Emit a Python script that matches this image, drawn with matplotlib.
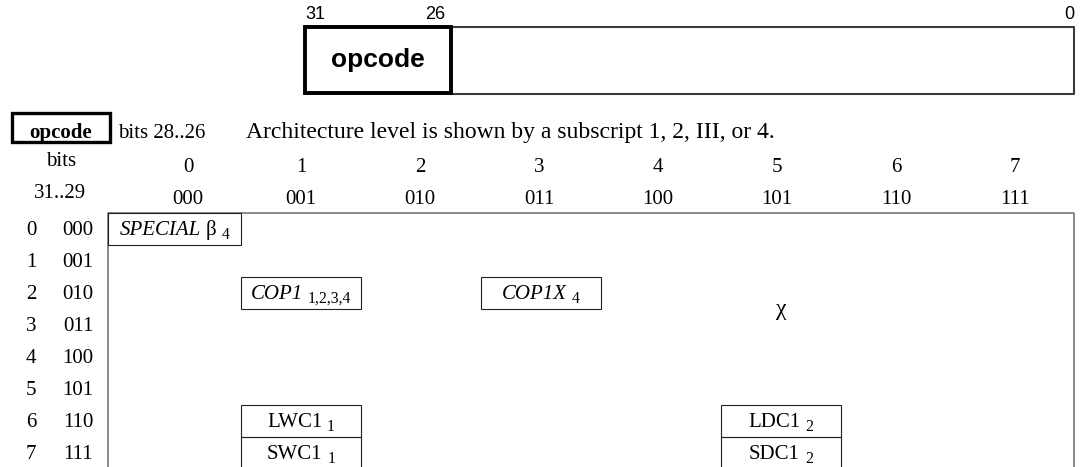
import matplotlib
matplotlib.use("Agg")
import matplotlib.pyplot as plt
from matplotlib.patches import Rectangle

# instruction field (top)
field_name = "opcode"
field_bits = ["31", "26", "0"]

# opcode table
header_left = ["opcode", "bits 28..26"]
header_note = "Architecture level is shown by a subscript 1, 2, III, or 4."
row_head = ["bits", "31..29"]
col_labels = ["0", "1", "2", "3", "4", "5", "6", "7"]
col_bits = ["000", "001", "010", "011", "100", "101", "110", "111"]
row_labels = ["0", "1", "2", "3", "4", "5", "6", "7"]
row_bits = ["000", "001", "010", "011", "100", "101", "110", "111"]

# (row, col, name, subscript)
cells = [
    (0, 0, "SPECIAL β", "4"),
    (2, 1, "COP1", "1,2,3,4"),
    (2, 3, "COP1X", "4"),
    (6, 1, "LWC1", "1"),
    (7, 1, "SWC1", "1"),
    (6, 5, "LDC1", "2"),
    (7, 5, "SDC1", "2"),
]
italic_names = {"SPECIAL", "COP1", "COP1X"}
# chi marks the reserved area, sits between rows 2 and 3 of column 5
chi_pos = (2.5, 5)

SERIF = "Liberation Serif"
SANS = "Liberation Sans"
FS = 15

fig = plt.figure(figsize=(10.8, 4.67), dpi=100)
ax = fig.add_axes([0, 0, 1, 1])
ax.set_xlim(0, 1080)
ax.set_ylim(467, 0)
ax.axis("off")
renderer = fig.canvas.get_renderer()


def col_left(k):
    return 108 if k == 0 else 121 + 120 * k


def col_right(k):
    return 241 + 120 * k


def head_x(k):
    return 188 if k == 0 else 301 + 119 * (k - 1)


def row_top(r):
    return 213 + 32 * r


def width_px(t):
    return t.get_window_extent(renderer).width


# ---- top field ----
ax.add_patch(Rectangle((305, 26.5), 146, 66.5, fill=False, lw=2.8, ec="black", zorder=3))
ax.plot([451, 1074, 1074, 451], [27, 27, 93.5, 93.5], color="#3a3a3a", lw=1.5)
ax.text(378, 67, field_name, family=SANS, weight="bold", fontsize=19,
        ha="center", va="baseline")
ax.text(305, 19, field_bits[0], family=SANS, fontsize=13, ha="left", va="baseline")
ax.text(445, 19, field_bits[1], family=SANS, fontsize=13, ha="right", va="baseline")
ax.text(1074, 19, field_bits[2], family=SANS, fontsize=13, ha="right", va="baseline")

# ---- table headers ----
ax.add_patch(Rectangle((12, 113), 98, 29, fill=False, lw=2.4, ec="black"))
ax.text(61, 138, header_left[0], family=SERIF, weight="bold", fontsize=FS,
        ha="center", va="baseline")
ax.text(118, 138, header_left[1], family=SERIF, fontsize=FS, ha="left", va="baseline")
ax.text(246, 138, header_note, family=SERIF, fontsize=17, ha="left", va="baseline")
ax.text(61, 166, row_head[0], family=SERIF, fontsize=FS, ha="center", va="baseline")
ax.text(60, 198, row_head[1], family=SERIF, fontsize=FS, ha="center", va="baseline")

for k, (lab, b) in enumerate(zip(col_labels, col_bits)):
    ax.text(head_x(k), 172, lab, family=SERIF, fontsize=FS, ha="center", va="baseline")
    ax.text(head_x(k), 204, b, family=SERIF, fontsize=FS, ha="center", va="baseline")

for r, (lab, b) in enumerate(zip(row_labels, row_bits)):
    base = row_top(r) + 22
    ax.text(31, base, lab, family=SERIF, fontsize=FS, ha="center", va="baseline")
    ax.text(78, base, b, family=SERIF, fontsize=FS, ha="center", va="baseline")

# outer table frame (runs off the bottom)
ax.plot([108, 108, 1074, 1074], [480, 213, 213, 480], color="#6a6a6a", lw=1.1)

# ---- cells ----
for r, c, name, sub in cells:
    x0, x1 = col_left(c), col_right(c)
    y0 = row_top(r)
    ax.add_patch(Rectangle((x0, y0), x1 - x0, 32, fill=False, lw=0.8, ec="#222222",
                           zorder=2))
    base = y0 + 22
    runs = []
    for w in name.split(" "):
        runs.append(ax.text(0, base, w, family=SERIF, fontsize=FS, va="baseline",
                            style="italic" if w in italic_names else "normal"))
    runs.append(ax.text(0, base + 4, sub, family=SERIF, fontsize=FS * 0.76,
                        va="baseline"))
    gap = 5
    total = sum(width_px(t) for t in runs) + gap * (len(runs) - 1)
    x = (x0 + x1) / 2 - total / 2
    for t in runs:
        t.set_x(x)
        x += width_px(t) + gap

ax.text((col_left(chi_pos[1]) + col_right(chi_pos[1])) / 2,
        row_top(chi_pos[0]) + 22, "χ", family=SERIF, fontsize=17,
        ha="center", va="baseline")

fig.savefig("out.png", dpi=100)
